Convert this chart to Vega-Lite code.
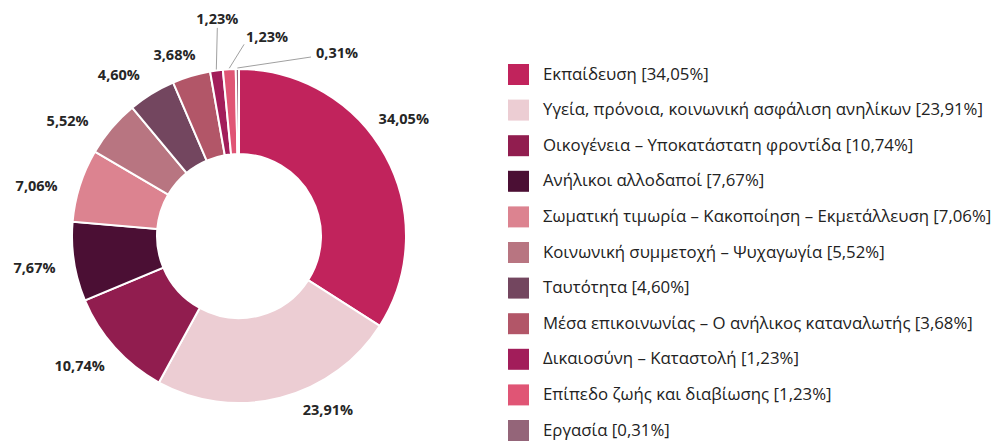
{
  "$schema": "https://vega.github.io/schema/vega-lite/v6.json",
  "width": 478,
  "height": 414,
  "autosize": {"type": "none"},
  "padding": {"left": 0, "top": 29, "right": 517, "bottom": 0},
  "background": "white",
  "config": {"view": {"stroke": null}, "font": "Open Sans"},
  "datasets": {"d": [
    {"cat": "Εκπαίδευση [34,05%]", "v": 34.05, "lbl": "34,05%", "i": 1},
    {"cat": "Υγεία, πρόνοια, κοινωνική ασφάλιση ανηλίκων [23,91%]", "v": 23.91, "lbl": "23,91%", "i": 2},
    {"cat": "Οικογένεια – Υποκατάστατη φροντίδα [10,74%]", "v": 10.74, "lbl": "10,74%", "i": 3},
    {"cat": "Ανήλικοι αλλοδαποί [7,67%]", "v": 7.67, "lbl": "7,67%", "i": 4},
    {"cat": "Σωματική τιμωρία – Κακοποίηση – Εκμετάλλευση [7,06%]", "v": 7.06, "lbl": "7,06%", "i": 5},
    {"cat": "Κοινωνική συμμετοχή – Ψυχαγωγία [5,52%]", "v": 5.52, "lbl": "5,52%", "i": 6},
    {"cat": "Ταυτότητα [4,60%]", "v": 4.60, "lbl": "4,60%", "i": 7},
    {"cat": "Μέσα επικοινωνίας – Ο ανήλικος καταναλωτής [3,68%]", "v": 3.68, "lbl": "3,68%", "i": 8},
    {"cat": "Δικαιοσύνη – Καταστολή [1,23%]", "v": 1.23, "lbl": "1,23%", "i": 9},
    {"cat": "Επίπεδο ζωής και διαβίωσης [1,23%]", "v": 1.23, "lbl": "1,23%", "i": 10},
    {"cat": "Εργασία [0,31%]", "v": 0.31, "lbl": "0,31%", "i": 11}
  ]},
  "data": {"name": "d"},
  "layer": [
    {
      "mark": {"type": "arc", "radius": 167, "radius2": 82, "stroke": "white", "strokeWidth": 2},
      "encoding": {
        "theta": {"field": "v", "type": "quantitative", "stack": true},
        "order": {"field": "i", "type": "quantitative", "sort": "ascending"},
        "color": {
          "field": "cat", "type": "nominal", "title": null,
          "scale": {
            "domain": ["Εκπαίδευση [34,05%]", "Υγεία, πρόνοια, κοινωνική ασφάλιση ανηλίκων [23,91%]", "Οικογένεια – Υποκατάστατη φροντίδα [10,74%]", "Ανήλικοι αλλοδαποί [7,67%]", "Σωματική τιμωρία – Κακοποίηση – Εκμετάλλευση [7,06%]", "Κοινωνική συμμετοχή – Ψυχαγωγία [5,52%]", "Ταυτότητα [4,60%]", "Μέσα επικοινωνίας – Ο ανήλικος καταναλωτής [3,68%]", "Δικαιοσύνη – Καταστολή [1,23%]", "Επίπεδο ζωής και διαβίωσης [1,23%]", "Εργασία [0,31%]"],
            "range": ["#c1235c", "#eccdd3", "#911d4f", "#4b0f34", "#dc8390", "#b87581", "#73465f", "#b25668", "#a21d5a", "#e05575", "#946579"]
          },
          "legend": {
            "orient": "none", "legendX": 508, "legendY": 35,
            "symbolType": "square", "symbolSize": 441, "symbolStrokeWidth": 0,
            "labelFontSize": 16.8, "labelColor": "#222222", "labelFont": "Open Sans",
            "labelLimit": 600, "labelOffset": 14, "rowPadding": 14.6, "padding": 0
          }
        }
      }
    },
    {"transform": [{"stack": "v", "groupby": [], "sort": [{"field": "i", "order": "ascending"}], "as": ["s0", "s1"]}, {"filter": "datum.i == 1"}, {"calculate": "(datum.s0 + datum.s1) / 2", "as": "m"}],
     "mark": {"type": "text", "radius": 205, "dx": -15, "dy": -18, "fontSize": 14.5, "fontWeight": "bold", "fill": "#262626"},
     "encoding": {"theta": {"field": "m", "type": "quantitative", "stack": null}, "text": {"field": "lbl"}}},
    {"transform": [{"stack": "v", "groupby": [], "sort": [{"field": "i", "order": "ascending"}], "as": ["s0", "s1"]}, {"filter": "datum.i == 2"}, {"calculate": "(datum.s0 + datum.s1) / 2", "as": "m"}],
     "mark": {"type": "text", "radius": 205, "dx": 38, "dy": -24, "fontSize": 14.5, "fontWeight": "bold", "fill": "#262626"},
     "encoding": {"theta": {"field": "m", "type": "quantitative", "stack": null}, "text": {"field": "lbl"}}},
    {"transform": [{"stack": "v", "groupby": [], "sort": [{"field": "i", "order": "ascending"}], "as": ["s0", "s1"]}, {"filter": "datum.i == 3"}, {"calculate": "(datum.s0 + datum.s1) / 2", "as": "m"}],
     "mark": {"type": "text", "radius": 205, "dx": -7, "dy": -6, "fontSize": 14.5, "fontWeight": "bold", "fill": "#262626"},
     "encoding": {"theta": {"field": "m", "type": "quantitative", "stack": null}, "text": {"field": "lbl"}}},
    {"transform": [{"stack": "v", "groupby": [], "sort": [{"field": "i", "order": "ascending"}], "as": ["s0", "s1"]}, {"filter": "datum.i == 4"}, {"calculate": "(datum.s0 + datum.s1) / 2", "as": "m"}],
     "mark": {"type": "text", "radius": 205, "dx": -2, "dy": 1, "fontSize": 14.5, "fontWeight": "bold", "fill": "#262626"},
     "encoding": {"theta": {"field": "m", "type": "quantitative", "stack": null}, "text": {"field": "lbl"}}},
    {"transform": [{"stack": "v", "groupby": [], "sort": [{"field": "i", "order": "ascending"}], "as": ["s0", "s1"]}, {"filter": "datum.i == 5"}, {"calculate": "(datum.s0 + datum.s1) / 2", "as": "m"}],
     "mark": {"type": "text", "radius": 205, "dx": -7, "dy": 13, "fontSize": 14.5, "fontWeight": "bold", "fill": "#262626"},
     "encoding": {"theta": {"field": "m", "type": "quantitative", "stack": null}, "text": {"field": "lbl"}}},
    {"transform": [{"stack": "v", "groupby": [], "sort": [{"field": "i", "order": "ascending"}], "as": ["s0", "s1"]}, {"filter": "datum.i == 6"}, {"calculate": "(datum.s0 + datum.s1) / 2", "as": "m"}],
     "mark": {"type": "text", "radius": 205, "dx": -15, "dy": 19, "fontSize": 14.5, "fontWeight": "bold", "fill": "#262626"},
     "encoding": {"theta": {"field": "m", "type": "quantitative", "stack": null}, "text": {"field": "lbl"}}},
    {"transform": [{"stack": "v", "groupby": [], "sort": [{"field": "i", "order": "ascending"}], "as": ["s0", "s1"]}, {"filter": "datum.i == 7"}, {"calculate": "(datum.s0 + datum.s1) / 2", "as": "m"}],
     "mark": {"type": "text", "radius": 205, "dx": -13, "dy": 15, "fontSize": 14.5, "fontWeight": "bold", "fill": "#262626"},
     "encoding": {"theta": {"field": "m", "type": "quantitative", "stack": null}, "text": {"field": "lbl"}}},
    {"transform": [{"stack": "v", "groupby": [], "sort": [{"field": "i", "order": "ascending"}], "as": ["s0", "s1"]}, {"filter": "datum.i == 8"}, {"calculate": "(datum.s0 + datum.s1) / 2", "as": "m"}],
     "mark": {"type": "text", "radius": 205, "dx": -6, "dy": 16, "fontSize": 14.5, "fontWeight": "bold", "fill": "#262626"},
     "encoding": {"theta": {"field": "m", "type": "quantitative", "stack": null}, "text": {"field": "lbl"}}},
    {"transform": [{"stack": "v", "groupby": [], "sort": [{"field": "i", "order": "ascending"}], "as": ["s0", "s1"]}, {"filter": "datum.i == 9"}, {"calculate": "(datum.s0 + datum.s1) / 2", "as": "m"}],
     "mark": {"type": "text", "radius": 205, "dx": 6, "dy": -13, "fontSize": 14.5, "fontWeight": "bold", "fill": "#262626"},
     "encoding": {"theta": {"field": "m", "type": "quantitative", "stack": null}, "text": {"field": "lbl"}}},
    {"transform": [{"stack": "v", "groupby": [], "sort": [{"field": "i", "order": "ascending"}], "as": ["s0", "s1"]}, {"filter": "datum.i == 10"}, {"calculate": "(datum.s0 + datum.s1) / 2", "as": "m"}],
     "mark": {"type": "text", "radius": 205, "dx": 40, "dy": 7, "fontSize": 14.5, "fontWeight": "bold", "fill": "#262626"},
     "encoding": {"theta": {"field": "m", "type": "quantitative", "stack": null}, "text": {"field": "lbl"}}},
    {"transform": [{"stack": "v", "groupby": [], "sort": [{"field": "i", "order": "ascending"}], "as": ["s0", "s1"]}, {"filter": "datum.i == 11"}, {"calculate": "(datum.s0 + datum.s1) / 2", "as": "m"}],
     "mark": {"type": "text", "radius": 205, "dx": 100, "dy": 23, "fontSize": 14.5, "fontWeight": "bold", "fill": "#262626"},
     "encoding": {"theta": {"field": "m", "type": "quantitative", "stack": null}, "text": {"field": "lbl"}}},
    {
      "transform": [
        {"stack": "v", "groupby": [], "sort": [{"field": "i", "order": "ascending"}], "as": ["s0", "s1"]},
        {"filter": "datum.i >= 9"},
        {"calculate": "(datum.s0 + datum.s1) / 100 * PI", "as": "a"},
        {"calculate": "width / 2 + 168 * sin(datum.a)", "as": "x1"},
        {"calculate": "height / 2 - 168 * cos(datum.a)", "as": "y1"},
        {"calculate": "width / 2 + 205 * sin(datum.a) + (datum.i == 9 ? 6 : datum.i == 10 ? 17 : 74)", "as": "x2"},
        {"calculate": "height / 2 - 205 * cos(datum.a) + (datum.i == 9 ? -5 : datum.i == 10 ? 13 : 26)", "as": "y2"}
      ],
      "mark": {"type": "rule", "stroke": "#a0a0a0", "strokeWidth": 1},
      "encoding": {
        "x": {"field": "x1", "type": "quantitative", "scale": null, "axis": null},
        "y": {"field": "y1", "type": "quantitative", "scale": null, "axis": null},
        "x2": {"field": "x2"},
        "y2": {"field": "y2"}
      }
    }
  ]
}
